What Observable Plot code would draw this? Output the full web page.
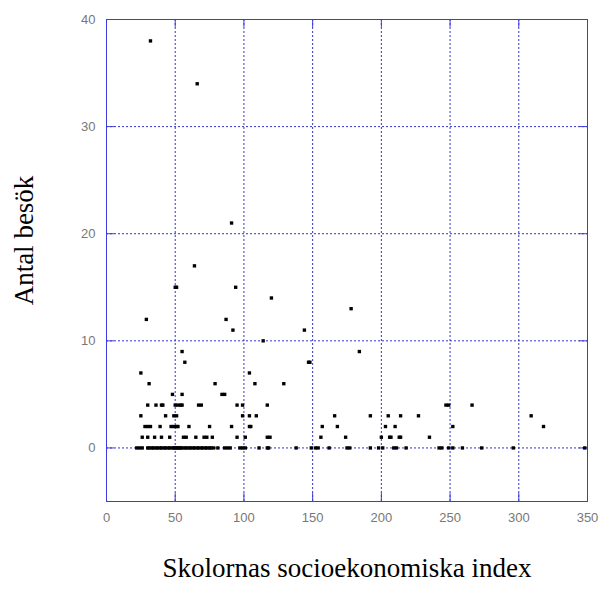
<!DOCTYPE html>
<html>
<head>
<meta charset="utf-8">
<script src="https://cdn.jsdelivr.net/npm/d3@7"></script>
<script src="https://cdn.jsdelivr.net/npm/@observablehq/plot@0.6"></script>
<style>
  html, body { margin: 0; padding: 0; background: #fff; }
  svg { display: block; }
</style>
</head>
<body>
<div id="chart"></div>
<script>
// Skolornas socioekonomiska index (x) for each antal besök (y)
const besok0  = [22,24,26,30,31,33,34,36,37,39,40,42,43,45,46,48,49,50,51,52,53,54,55,57,58,60,61,63,64,66,67,69,70,72,73,75,76,78,81,86,88,90,97,99,101,111,117,118,138,149,152,154,162,175,177,192,198,201,209,211,218,242,244,249,252,259,273,296,348];
const besok1  = [26,30,35,40,46,56,58,65,71,73,77,95,101,117,119,156,174,200,206,207,213,214,235];
const besok2  = [28,30,32,39,47,49,51,52,60,75,91,104,105,157,168,203,210,252,318];
const besok3  = [25,43,49,51,99,104,109,166,192,205,214,227,309];
const besok4  = [30,36,40,41,50,52,54,55,67,69,95,99,117,247,249,266];
const besok5  = [48,55,84,86];
const besok6  = [31,79,108,129];
const besok7  = [25,104];
const besok8  = [57,147,148];
const besok9  = [55,184];
const besok10 = [114];
const besok11 = [92,144];
const besok12 = [29,87];
const besok13 = [178];
const besok14 = [120];
const besok15 = [50,51,94];
const besok17 = [64];
const besok21 = [91];
const besok34 = [66];
const besok38 = [32];

const groups = [
  [0, besok0], [1, besok1], [2, besok2], [3, besok3], [4, besok4], [5, besok5],
  [6, besok6], [7, besok7], [8, besok8], [9, besok9], [10, besok10], [11, besok11],
  [12, besok12], [13, besok13], [14, besok14], [15, besok15], [17, besok17],
  [21, besok21], [34, besok34], [38, besok38]
];

const xTicks = [0, 50, 100, 150, 200, 250, 300, 350];
const yTicks = [0, 10, 20, 30, 40];
const xGrid = [50, 100, 150, 200, 250, 300];
const yGrid = [0, 10, 20, 30];

const xTitle = "Skolornas socioekonomiska index";
const yTitle = "Antal besök";

const data = groups.flatMap(([count, xs]) => xs.map(v => ({index: v, besok: count})));

const blue = "#3434c8";
const serif = "'Liberation Serif', 'Times New Roman', serif";

const chart = Plot.plot({
  width: 601,
  height: 605,
  marginLeft: 106,
  marginRight: 14,
  marginTop: 19,
  marginBottom: 104,
  style: {background: "#fff", fontFamily: "'Liberation Sans', Arial, sans-serif"},
  x: {domain: [0, 350]},
  y: {domain: [-5, 40]},
  marks: [
    Plot.ruleX(xGrid, {stroke: blue, strokeWidth: 1, strokeDasharray: "2,2"}),
    Plot.ruleY(yGrid, {stroke: blue, strokeWidth: 1, strokeDasharray: "2,2"}),
    Plot.frame({stroke: "#3c3cdc", strokeWidth: 1}),
    Plot.ruleX(xTicks, {stroke: "#3c3cdc", insetTop: 474}),
    Plot.ruleX(xTicks, {stroke: "#3c3cdc", insetBottom: 474}),
    Plot.ruleY(yTicks, {stroke: "#3c3cdc", insetRight: 473}),
    Plot.ruleY(yTicks, {stroke: "#3c3cdc", insetLeft: 473}),
    Plot.axisX({ticks: xTicks, tickSize: 0, tickPadding: 11, fontSize: 13, color: "#787878", label: null}),
    Plot.axisY({ticks: yTicks, tickSize: 0, tickPadding: 11, fontSize: 13, color: "#787878", label: null}),
    Plot.dot(data, {x: "index", y: "besok", symbol: "square", r: 1.9, fill: "black"}),
    Plot.text([yTitle], {frameAnchor: "left", dx: -82, dy: -20, rotate: -90, fontSize: 27, fontFamily: serif, fill: "black", lineAnchor: "middle", textAnchor: "middle"}),
    Plot.text([xTitle], {frameAnchor: "bottom", dy: 75, fontSize: 27, fontFamily: serif, fill: "black", lineAnchor: "bottom", textAnchor: "middle"})
  ]
});

document.getElementById("chart").appendChild(chart);
</script>
</body>
</html>
